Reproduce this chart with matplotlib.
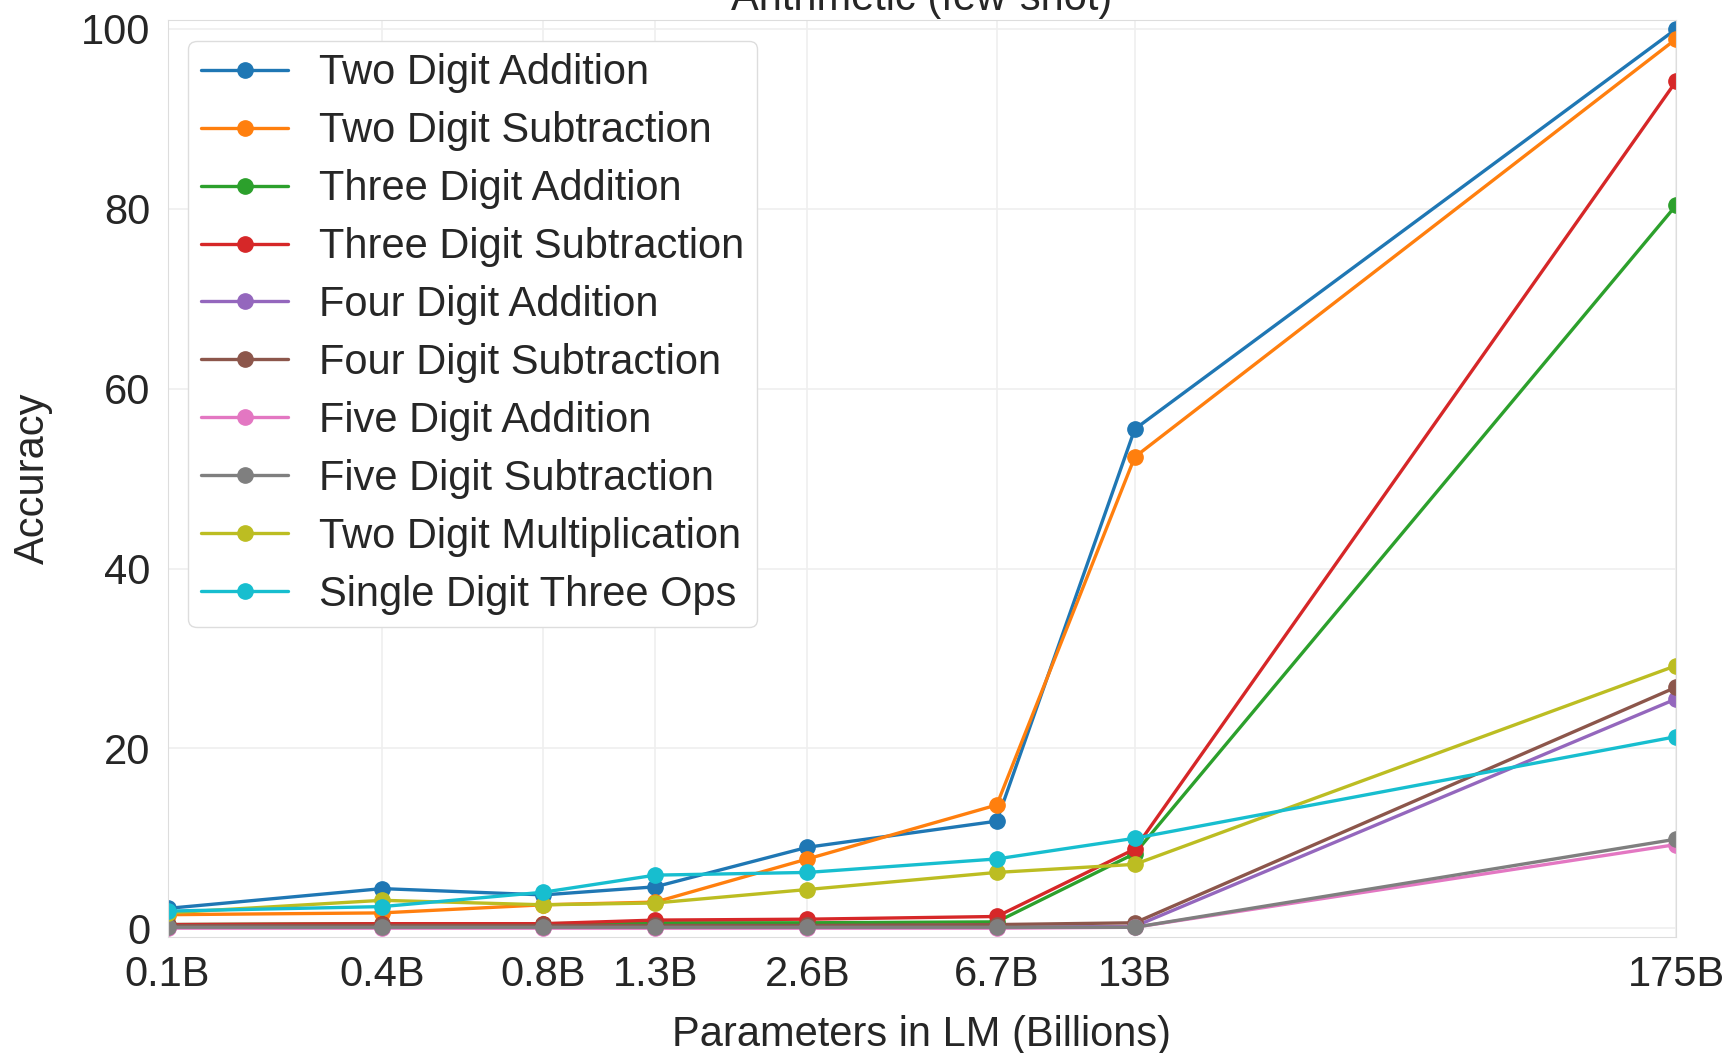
import matplotlib
matplotlib.use("Agg")
import matplotlib.pyplot as plt
import seaborn as sns

# ── data ──────────────────────────────────────────────────────────
params = [0.125, 0.35, 0.76, 1.3, 2.7, 6.7, 13, 175]
tick_labels = ["0.1B", "0.4B", "0.8B", "1.3B", "2.6B", "6.7B", "13B", "175B"]

two_add   = [2.2, 4.4, 3.7, 4.6, 9.0, 11.9, 55.5, 100.0]
two_sub   = [1.5, 1.7, 2.6, 2.9, 7.7, 13.7, 52.4, 98.9]
three_add = [0.4, 0.5, 0.5, 0.6, 0.6, 0.7, 8.3, 80.4]
three_sub = [0.4, 0.5, 0.5, 0.9, 1.0, 1.3, 8.8, 94.2]
four_add  = [0.1, 0.1, 0.1, 0.1, 0.1, 0.1, 0.2, 25.5]
four_sub  = [0.3, 0.3, 0.3, 0.3, 0.3, 0.4, 0.6, 26.8]
five_add  = [0.0, 0.0, 0.0, 0.0, 0.0, 0.0, 0.1, 9.3]
five_sub  = [0.1, 0.1, 0.1, 0.1, 0.1, 0.1, 0.1, 9.9]
two_mul   = [1.7, 3.1, 2.6, 2.8, 4.3, 6.2, 7.1, 29.2]
one_ops   = [1.9, 2.4, 4.0, 5.9, 6.2, 7.7, 10.0, 21.3]

series = [
    ("Two Digit Addition", two_add),
    ("Two Digit Subtraction", two_sub),
    ("Three Digit Addition", three_add),
    ("Three Digit Subtraction", three_sub),
    ("Four Digit Addition", four_add),
    ("Four Digit Subtraction", four_sub),
    ("Five Digit Addition", five_add),
    ("Five Digit Subtraction", five_sub),
    ("Two Digit Multiplication", two_mul),
    ("Single Digit Three Ops", one_ops),
]

# ── style ─────────────────────────────────────────────────────────
sns.set_style("whitegrid")
plt.rcParams["font.family"] = ["Liberation Sans", "DejaVu Sans"]
FS = 30

fig = plt.figure(figsize=(17.28, 10.53), dpi=100)
ax = fig.add_axes([0.097, 0.110, 0.873, 0.871])

colors = plt.get_cmap("tab10").colors
for (name, vals), c in zip(series, colors):
    ax.plot(params, vals, "-o", color=c, lw=2.4, ms=11, label=name)

ax.set_xscale("log")
ax.set_xticks(params)
ax.set_xticklabels(tick_labels)
ax.minorticks_off()
ax.set_xlim(0.125, 175)
ax.set_ylim(-1, 101)
ax.set_yticks([0, 20, 40, 60, 80, 100])
ax.tick_params(axis="y", labelsize=FS, colors="#262626", pad=9)
ax.tick_params(axis="x", labelsize=FS, colors="#262626", pad=9)
ax.set_xlabel("Parameters in LM (Billions)", fontsize=FS, color="#262626", labelpad=15)
ax.set_ylabel("Accuracy", fontsize=FS, color="#262626", labelpad=20)
for s in ax.spines.values():
    s.set_color("#dddddd")
ax.grid(color="#efefef", lw=1.2)

ax.legend(loc="upper left", fontsize=FS, handlelength=2.1, handletextpad=0.74,
          labelspacing=0.43, borderpad=0.3, framealpha=1.0,
          edgecolor="#dddddd", bbox_to_anchor=(0.0, 1.0))

fig.text(0.5335, 1 - 10 / 1053, "Arithmetic (few-shot)", ha="center",
         va="baseline", fontsize=FS, color="#262626")

fig.savefig("out.png", dpi=100)
